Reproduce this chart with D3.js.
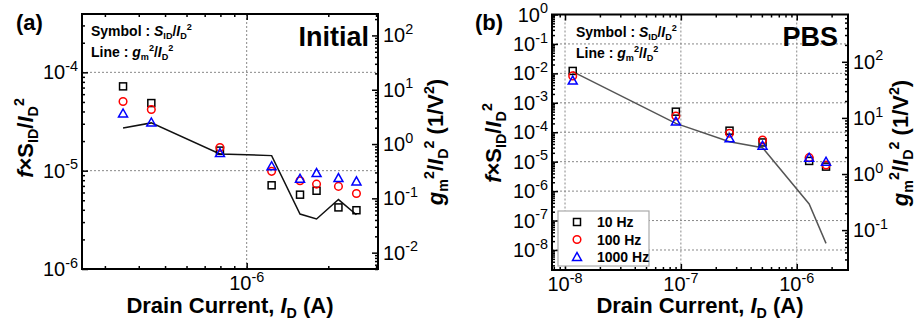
<!DOCTYPE html>
<html>
<head>
<meta charset="utf-8">
<script src="https://cdn.jsdelivr.net/npm/d3@7/dist/d3.min.js"></script>
<style>
  body { margin: 0; background: #fff; }
  svg { display: block; font-family: "Liberation Sans", Arial, sans-serif; }
</style>
</head>
<body>
<svg id="chart" width="919" height="323"></svg>
<script>
// (a) Initial
const currentA = [3.5e-7, 4.45e-7, 7.97e-7, 1.236e-6, 1.573e-6, 1.81e-6, 2.18e-6, 2.54e-6];
const noise10A = [7.2e-5, 4.87e-5, 1.6e-5, 7.1e-6, 5.7e-6, 6.25e-6, 4.23e-6, 3.96e-6];
const noise100A = [5.06e-5, 4.19e-5, 1.72e-5, 9.84e-6, 7.9e-6, 7.3e-6, 6.92e-6, 5.86e-6];
const noise1000A = [3.82e-5, 3.09e-5, 1.51e-5, 1.11e-5, 8.28e-6, 9.46e-6, 8.41e-6, 7.78e-6];
const gmA = [1.98, 2.45, 0.657, 0.612, 0.0513, 0.0416, 0.095, 0.0498];

// (b) PBS
const currentB = [1.165e-8, 9.05e-8, 2.63e-7, 5.07e-7, 1.28e-6, 1.79e-6];
const noise10B = [1.21e-2, 5.0e-4, 1.13e-4, 4.5e-5, 1.06e-5, 6.8e-6];
const noise100B = [8.2e-3, 3.58e-4, 9.2e-5, 5.47e-5, 1.37e-5, 7.7e-6];
const noise1000B = [5.7e-3, 2.3e-4, 6.2e-5, 3.5e-5, 1.37e-5, 1.0e-5];
const gmB = [66.7, 8.0, 3.77, 2.94, 0.292, 0.058];

const freqLabels = ["10 Hz", "100 Hz", "1000 Hz"];

const panels = [
  {
    box: [82, 14, 378, 269], xDom: [2.47e-7, 3.05e-6], yDom: [1e-6, 3.92e-4], rDom: [5e-3, 248],
    x: currentA, series: [noise10A, noise100A, noise1000A], gm: gmA, lineColor: "#111",
    tag: "(a)", tagX: 16, name: "Initial", nameX: 369, noteX: 91,
    yTitleX: 33, yTitleY: 138, rTitleX: 443, rTitleY: 142, legend: false
  },
  {
    box: [552, 14.5, 848, 270], xDom: [7.72e-9, 2.77e-6], yDom: [2.09e-9, 1], rDom: [0.01945, 697],
    x: currentB, series: [noise10B, noise100B, noise1000B], gm: gmB, lineColor: "#555",
    tag: "(b)", tagX: 475, name: "PBS", nameX: 838, noteX: 576,
    yTitleX: 501, yTitleY: 143, rTitleX: 908, rTitleY: 143, legend: true
  }
];

const svg = d3.select("#chart");

function logTicks(dom) {
  const lo = d3.min(dom), hi = d3.max(dom);
  const major = [], minor = [];
  for (let e = Math.floor(Math.log10(lo)); e <= Math.ceil(Math.log10(hi)); e++) {
    for (let k = 1; k < 10; k++) {
      const v = k * Math.pow(10, e);
      if (v < lo * 0.999 || v > hi * 1.001) continue;
      (k === 1 ? major : minor).push(v);
    }
  }
  return { major, minor };
}

// text with sub/superscripts: parts = [{t, sub, sup, i}]
function rich(text, parts, size, ratio = 0.65) {
  let shift = 0;
  parts.forEach(p => {
    const target = p.sub ? size * 0.24 : p.sup ? -size * 0.42 : 0;
    const ts = text.append("tspan").text(p.t);
    if (target - shift !== 0) ts.attr("dy", target - shift);
    shift = target;
    if (p.sub || p.sup) ts.attr("font-size", size * ratio);
    if (p.i) ts.attr("font-style", "italic");
  });
}

function expParts(v) {
  return [{ t: "10" }, { t: String(Math.round(Math.log10(v))), sup: true }];
}

function marker(g, type, cx, cy) {
  if (type === 0) {
    g.append("rect").attr("x", cx - 3.5).attr("y", cy - 3.5).attr("width", 7).attr("height", 7)
      .attr("fill", "none").attr("stroke", "#000").attr("stroke-width", 1.5);
  } else if (type === 1) {
    g.append("circle").attr("cx", cx).attr("cy", cy).attr("r", 3.8)
      .attr("fill", "none").attr("stroke", "#f00").attr("stroke-width", 1.5);
  } else {
    g.append("path").attr("d", `M${cx - 4.5},${cy + 3.5}L${cx},${cy - 4.5}L${cx + 4.5},${cy + 3.5}Z`)
      .attr("fill", "none").attr("stroke", "#00f").attr("stroke-width", 1.5);
  }
}

function drawPanel(p) {
  const [left, top, right, bottom] = p.box;
  const x = d3.scaleLog().domain(p.xDom).range([left, right]);
  const y = d3.scaleLog().domain(p.yDom).range([bottom, top]);
  const r = d3.scaleLog().domain(p.rDom).range([bottom, top]);
  const g = svg.append("g");
  const xt = logTicks(p.xDom), yt = logTicks(p.yDom), rt = logTicks(p.rDom);

  // grid
  const grid = g.append("g").attr("stroke", "#888").attr("stroke-width", 1).attr("stroke-dasharray", "2,2");
  yt.major.filter(v => Math.abs(y(v) - top) > 2 && Math.abs(y(v) - bottom) > 2).forEach(v => {
    grid.append("line").attr("x1", left).attr("x2", right).attr("y1", y(v)).attr("y2", y(v));
  });
  xt.major.filter(v => Math.abs(x(v) - left) > 2 && Math.abs(x(v) - right) > 2).forEach(v => {
    grid.append("line").attr("y1", top).attr("y2", bottom).attr("x1", x(v)).attr("x2", x(v));
  });

  // inward ticks
  const addAxis = (axisFn, scale, vals, size, tr) => {
    const a = g.append("g").attr("transform", tr)
      .call(axisFn(scale).tickValues(vals).tickSize(-size).tickFormat(""));
    a.select(".domain").remove();
    a.selectAll("line").attr("stroke", "#000").attr("stroke-width", 1.5);
  };
  addAxis(d3.axisBottom, x, xt.major, 6, `translate(0,${bottom})`);
  addAxis(d3.axisBottom, x, xt.minor, 3, `translate(0,${bottom})`);
  addAxis(d3.axisTop, x, xt.major, 6, `translate(0,${top})`);
  addAxis(d3.axisTop, x, xt.minor, 3, `translate(0,${top})`);
  addAxis(d3.axisLeft, y, yt.major, 6, `translate(${left},0)`);
  addAxis(d3.axisLeft, y, yt.minor, 3, `translate(${left},0)`);
  addAxis(d3.axisRight, r, rt.major, 6, `translate(${right},0)`);
  addAxis(d3.axisRight, r, rt.minor, 3, `translate(${right},0)`);

  g.append("rect").attr("x", left).attr("y", top).attr("width", right - left).attr("height", bottom - top)
    .attr("fill", "none").attr("stroke", "#000").attr("stroke-width", 2);

  // tick labels
  yt.major.forEach(v => {
    const t = g.append("text").attr("x", left - 4).attr("y", y(v) + 7).attr("text-anchor", "end")
      .attr("font-size", 20);
    rich(t, expParts(v), 20, 0.72);
  });
  rt.major.forEach(v => {
    const t = g.append("text").attr("x", right + 5).attr("y", r(v) + 7).attr("font-size", 20);
    rich(t, expParts(v), 20, 0.72);
  });
  xt.major.forEach(v => {
    const t = g.append("text").attr("x", x(v)).attr("y", bottom + 21).attr("text-anchor", "middle")
      .attr("font-size", 20);
    rich(t, expParts(v), 20, 0.72);
  });

  // gm line
  const line = d3.line().x((d, i) => x(p.x[i])).y(d => r(d));
  g.append("path").datum(p.gm).attr("d", line).attr("fill", "none")
    .attr("stroke", p.lineColor).attr("stroke-width", 1.5);

  // noise symbols
  p.series.forEach((s, k) => {
    s.forEach((v, i) => marker(g, k, x(p.x[i]), y(v)));
  });

  // labels
  g.append("text").attr("x", p.tagX).attr("y", 30).attr("font-size", 22).attr("font-weight", "bold").text(p.tag);
  g.append("text").attr("x", p.nameX).attr("y", 46).attr("text-anchor", "end")
    .attr("font-size", 27).attr("font-weight", "bold").text(p.name);

  const n1 = g.append("text").attr("x", p.noteX).attr("y", top + 22).attr("font-size", 14).attr("font-weight", "bold");
  rich(n1, [{ t: "Symbol : " }, { t: "S", i: true }, { t: "ID", sub: true }, { t: "/" }, { t: "I", i: true },
    { t: "D", sub: true }, { t: "2", sup: true }], 14);
  const n2 = g.append("text").attr("x", p.noteX).attr("y", top + 43).attr("font-size", 14).attr("font-weight", "bold");
  rich(n2, [{ t: "Line : " }, { t: "g", i: true }, { t: "m", sub: true }, { t: "2", sup: true }, { t: "/" },
    { t: "I", i: true }, { t: "D", sub: true }, { t: "2", sup: true }], 14);

  const xt1 = g.append("text").attr("x", (left + right) / 2).attr("y", 313).attr("text-anchor", "middle")
    .attr("font-size", 22).attr("font-weight", "bold");
  rich(xt1, [{ t: "Drain Current, " }, { t: "I", i: true }, { t: "D", sub: true }, { t: " (A)" }], 22);

  const yl = g.append("text").attr("transform", `translate(${p.yTitleX},${p.yTitleY}) rotate(-90)`)
    .attr("text-anchor", "middle").attr("font-size", 22).attr("font-weight", "bold");
  rich(yl, [{ t: "f", i: true }, { t: "×S" }, { t: "ID", sub: true }, { t: "/" }, { t: "I", i: true },
    { t: "D", sub: true }, { t: "2", sup: true }], 22);

  const rl = g.append("text").attr("transform", `translate(${p.rTitleX},${p.rTitleY}) rotate(-90)`)
    .attr("text-anchor", "middle").attr("font-size", 22).attr("font-weight", "bold");
  rich(rl, [{ t: "g", i: true }, { t: "m", sub: true }, { t: "2", sup: true }, { t: "/" }, { t: "I", i: true },
    { t: "D", sub: true }, { t: "2", sup: true }, { t: "  (1/V" }, { t: "2", sup: true }, { t: ")" }], 22);

  if (p.legend) {
    const lg = g.append("g").attr("transform", "translate(558,211)");
    lg.append("rect").attr("width", 91).attr("height", 55).attr("fill", "#fff")
      .attr("stroke", "#aaa").attr("stroke-width", 1.2);
    freqLabels.forEach((lab, k) => {
      const ly = 11 + k * 17.5;
      marker(lg, k, 19, ly);
      lg.append("text").attr("x", 39).attr("y", ly + 5).attr("font-size", 14).attr("font-weight", "bold").text(lab);
    });
  }
}

panels.forEach(drawPanel);
</script>
</body>
</html>
